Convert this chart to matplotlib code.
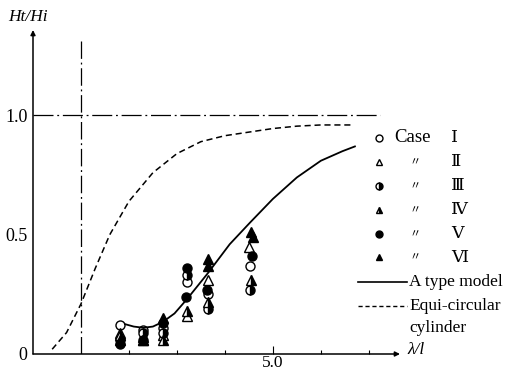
import matplotlib
matplotlib.use("Agg")
import matplotlib.pyplot as plt

plt.rcParams["font.family"] = ["Liberation Serif", "DejaVu Serif", "Noto Sans CJK JP"]

# measured cases, lambda/l and Ht/Hi
case1_x = [1.81, 2.29, 2.71, 3.21, 3.65, 4.52]
case1_y = [0.12, 0.10, 0.11, 0.30, 0.25, 0.37]
case2_x = [1.81, 2.29, 2.71, 3.21, 3.65, 4.50]
case2_y = [0.09, 0.07, 0.08, 0.16, 0.31, 0.45]
case3_x = [1.81, 2.29, 2.71, 3.21, 3.65, 4.52]
case3_y = [0.06, 0.09, 0.09, 0.33, 0.19, 0.27]
case4_x = [1.81, 2.29, 2.71, 3.21, 3.65, 4.55]
case4_y = [0.08, 0.06, 0.06, 0.18, 0.22, 0.31]
case5_x = [1.81, 2.29, 2.71, 3.21, 3.19, 3.62, 4.56]
case5_y = [0.04, 0.06, 0.13, 0.36, 0.24, 0.27, 0.41]
case6_x = [1.81, 2.29, 2.71, 3.65, 3.65, 4.55, 4.58]
case6_y = [0.06, 0.06, 0.15, 0.40, 0.37, 0.51, 0.49]

# A type model (solid) and equi-circular cylinder (dashed)
model_x = [1.92, 2.1, 2.3, 2.5, 2.71, 2.95, 3.21, 3.45, 3.65, 4.1, 4.52, 5.0, 5.5, 6.0, 6.45, 6.71]
model_y = [0.125, 0.115, 0.11, 0.115, 0.135, 0.17, 0.23, 0.29, 0.34, 0.46, 0.55, 0.65, 0.74, 0.81, 0.85, 0.87]
cyl_x = [0.40, 0.70, 1.00, 1.30, 1.60, 2.00, 2.50, 3.00, 3.50, 4.00, 4.50, 5.00, 5.50, 6.00, 6.65]
cyl_y = [0.02, 0.09, 0.21, 0.36, 0.50, 0.64, 0.76, 0.84, 0.89, 0.915, 0.93, 0.945, 0.955, 0.96, 0.96]

case_labels = ["Ⅰ", "Ⅱ", "Ⅲ", "Ⅳ", "Ⅴ", "Ⅵ"]

W, H = 513, 371
fig = plt.figure(figsize=(W / 100, H / 100), dpi=100)
ax = fig.add_axes([33 / W, 17 / H, (400 - 33) / W, (354 - 30) / H])
ax.set_xlim(0, 7.65)
ax.set_ylim(0, 1.358)
for side in ["top", "right", "left", "bottom"]:
    ax.spines[side].set_visible(False)

arrow = dict(arrowstyle="-|>", lw=1.1, color="black", mutation_scale=7, shrinkA=0, shrinkB=0)
ax.annotate("", xy=(0, 1), xytext=(0, 0), xycoords="axes fraction", arrowprops=arrow)
ax.annotate("", xy=(1, 0), xytext=(0, 0), xycoords="axes fraction", arrowprops=arrow)

ax.set_xticks([5.0])
ax.set_xticklabels(["5.0"])
ax.set_xticks([2, 3, 4, 6, 7], minor=True)
ax.tick_params(axis="x", which="major", direction="in", length=6, width=0.8, labelsize=12.5, pad=1)
ax.tick_params(axis="x", which="minor", direction="in", length=3, width=0.8)
ax.set_yticks([0, 0.5, 1.0])
ax.set_yticklabels(["0", "0.5", "1.0"])
ax.tick_params(axis="y", length=0, labelsize=13, pad=4)

ax.plot([1.0, 1.0], [0, 1.31], color="black", lw=0.9, ls=(0, (14, 3, 1.5, 3)))
ax.plot([0, 7.23], [1.0, 1.0], color="black", lw=0.9, ls=(0, (16, 3, 1.5, 3)))

ax.plot(model_x, model_y, color="black", lw=1.3)
ax.plot(cyl_x, cyl_y, color="black", lw=1.1, ls=(0, (4, 2.5)))

styles = [
    (case1_x, case1_y, "o", "none"),
    (case2_x, case2_y, "^", "none"),
    (case3_x, case3_y, "o", "right"),
    (case4_x, case4_y, "^", "right"),
    (case5_x, case5_y, "o", "full"),
    (case6_x, case6_y, "^", "full"),
]
for xs, ys, marker, fill in styles:
    ax.plot(xs, ys, ls="none", marker=marker, ms=6.5, mew=1.0, mec="black",
            mfc="black", fillstyle=fill, markerfacecoloralt="white")

fig.text(8 / W, 1 - 17 / H, "Ht/Hi", style="italic", fontsize=12.5, va="center")
fig.text(407 / W, 1 - 350 / H, "λ/l", style="italic", fontsize=12.5, va="center")

# legend drawn in pixel coordinates
leg = fig.add_axes([0, 0, 1, 1])
leg.set_xlim(0, W)
leg.set_ylim(H, 0)
leg.axis("off")
rows = [138, 162, 186, 210, 234, 257]
for (xs, ys, marker, fill), label, y in zip(styles, case_labels, rows):
    leg.plot([379], [y], ls="none", marker=marker, ms=5, mew=1.0, mec="black",
             mfc="black", fillstyle=fill, markerfacecoloralt="white")
    if label == "Ⅰ":
        leg.text(394, y, "Case", fontsize=13.5, va="center")
    else:
        leg.text(415, y, "〃", fontsize=8, va="center", ha="center",
                 family=["Noto Sans CJK JP"], style="italic")
    leg.text(451, y, label, fontsize=12.5, va="center", family=["DejaVu Serif"])
leg.plot([358, 407], [282, 282], color="black", lw=1.2)
leg.text(409, 282, "A type model", fontsize=12.5, va="center")
leg.plot([358, 407], [306, 306], color="black", lw=1.0, ls=(0, (3, 2)))
leg.text(409, 306, "Equi-circular", fontsize=12.5, va="center")
leg.text(409, 328, "cylinder", fontsize=12.5, va="center")

fig.savefig("out.png", dpi=100)
